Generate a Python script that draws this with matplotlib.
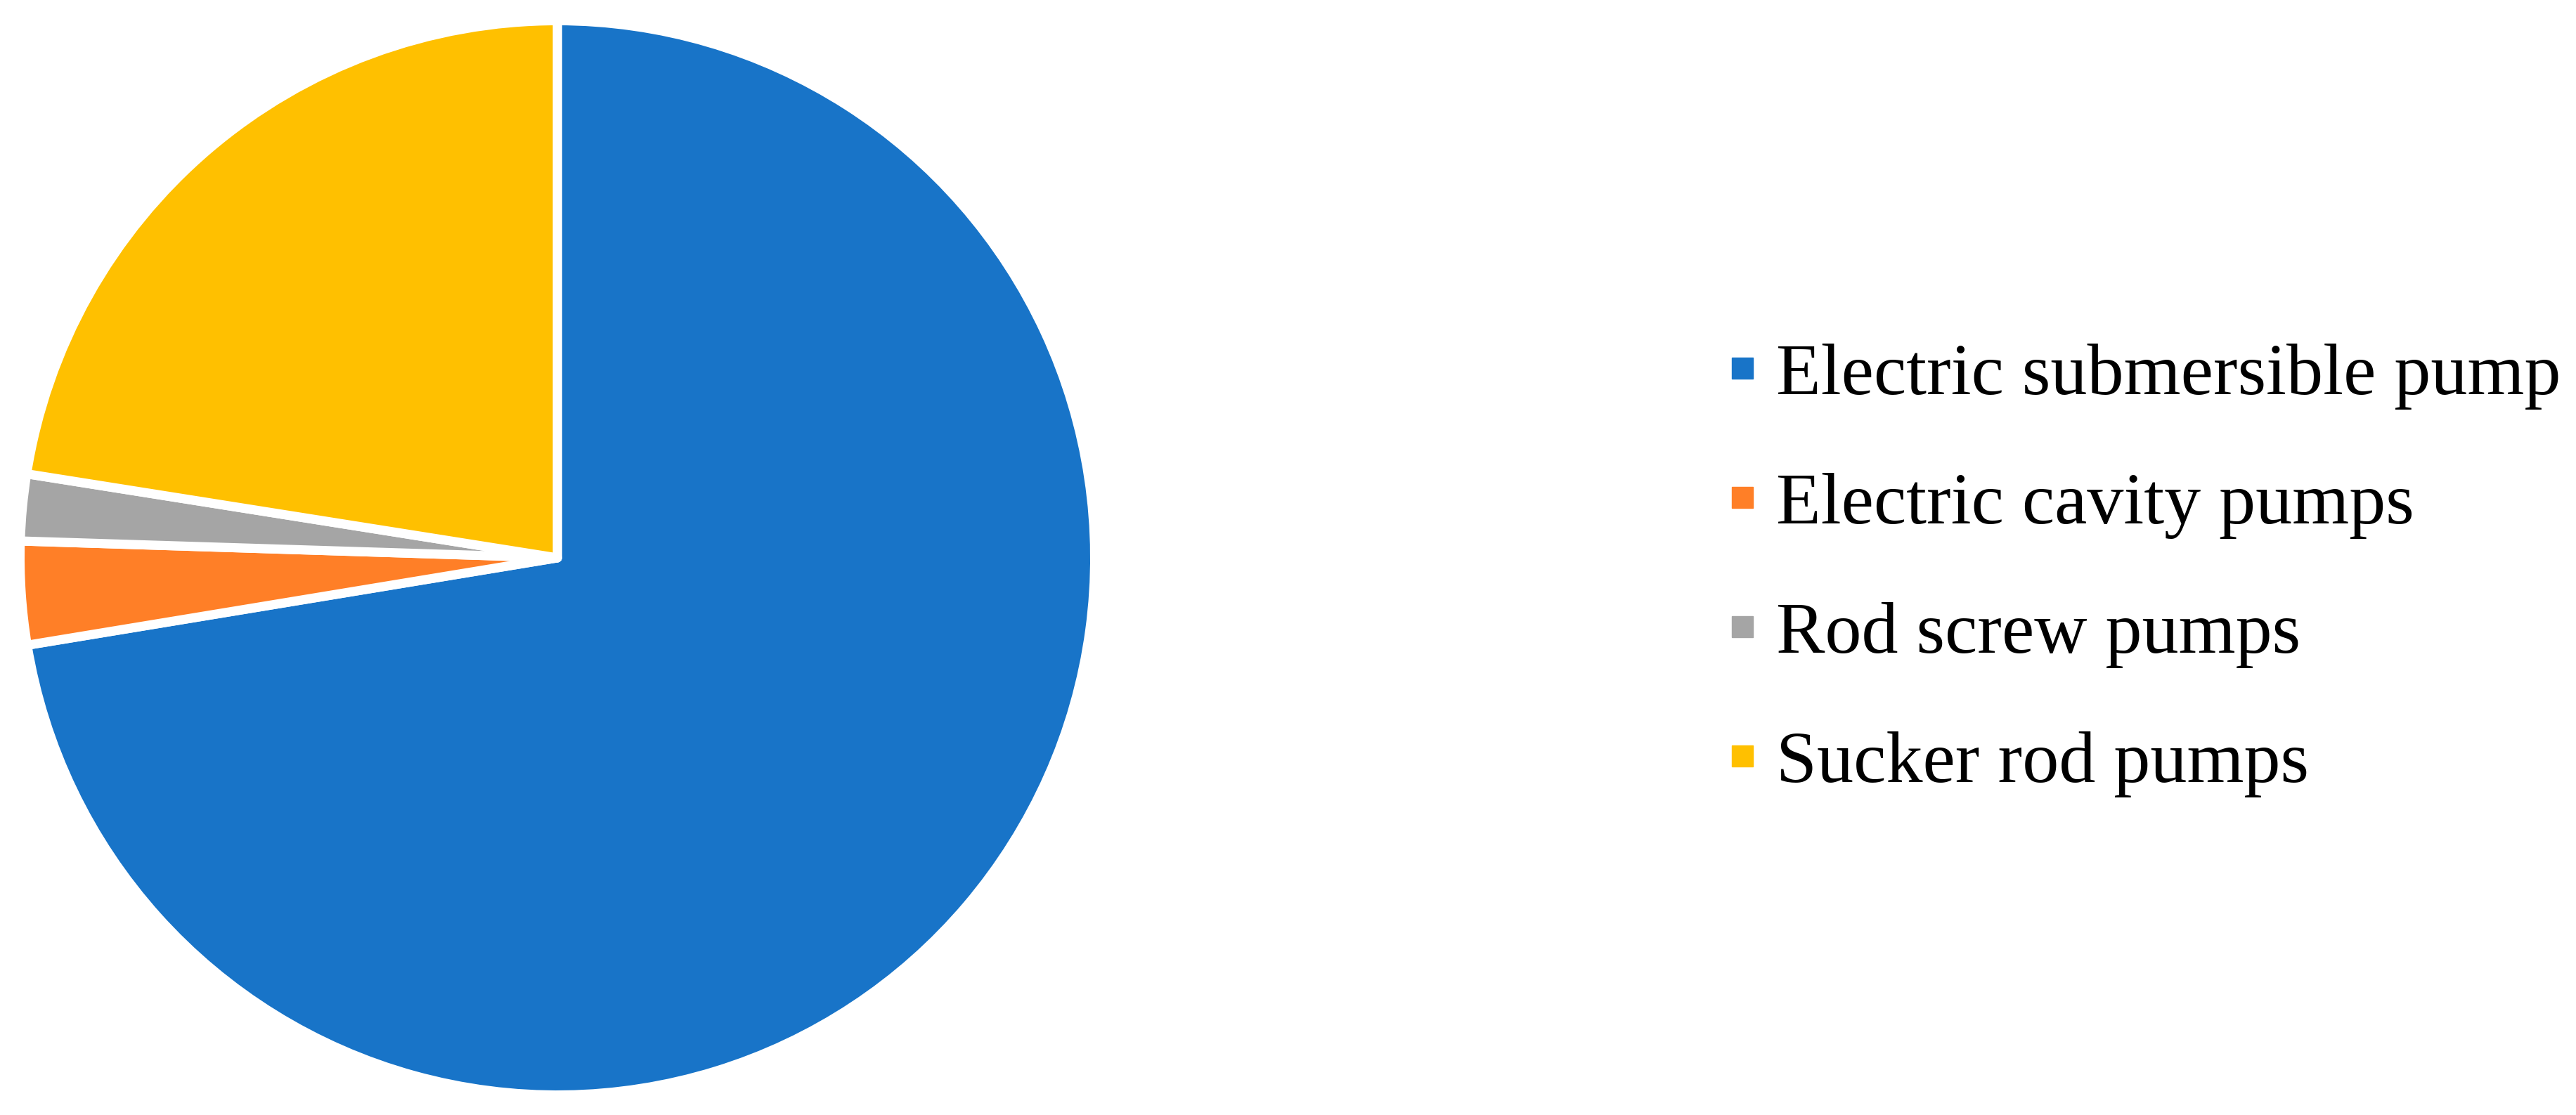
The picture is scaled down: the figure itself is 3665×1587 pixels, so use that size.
import matplotlib
matplotlib.use("Agg")
import matplotlib.pyplot as plt
from matplotlib.lines import Line2D

# pump types and their share
labels = ["Electric submersible pump", "Electric cavity pumps",
          "Rod screw pumps", "Sucker rod pumps"]
shares = [72.4, 3.1, 2.0, 22.5]
colors = ["#1874C8", "#FF7F27", "#A5A5A5", "#FFC000"]

W, H = 3666, 1587
fig = plt.figure(figsize=(W / 100, H / 100), dpi=100)

# pie axes placed in pixels: center (793, 794), radius 758
cx, cy, r = 793, 794, 758
ax = fig.add_axes([(cx - r) / W, (H - cy - r) / H, 2 * r / W, 2 * r / H])
ax.pie(shares, colors=colors, startangle=90, counterclock=False,
       radius=1.0086,
       wedgeprops=dict(edgecolor="white", linewidth=9.4, joinstyle="round"))
ax.set_xlim(-1, 1)
ax.set_ylim(-1, 1)
ax.set_aspect("equal")
ax.axis("off")

# legend with small square markers
handles = [Line2D([], [], marker="s", linestyle="none", markersize=22.3,
                  markerfacecolor=c, markeredgecolor=c) for c in colors]
fig.legend(handles, labels, loc="upper left",
           bbox_to_anchor=(2458 / W, 1 - 488 / H),
           frameon=False, borderpad=0, borderaxespad=0,
           handlelength=0.4, handletextpad=0.26, labelspacing=0.855,
           prop={"family": "Liberation Serif", "size": 75})

fig.savefig("out.png", dpi=100)
